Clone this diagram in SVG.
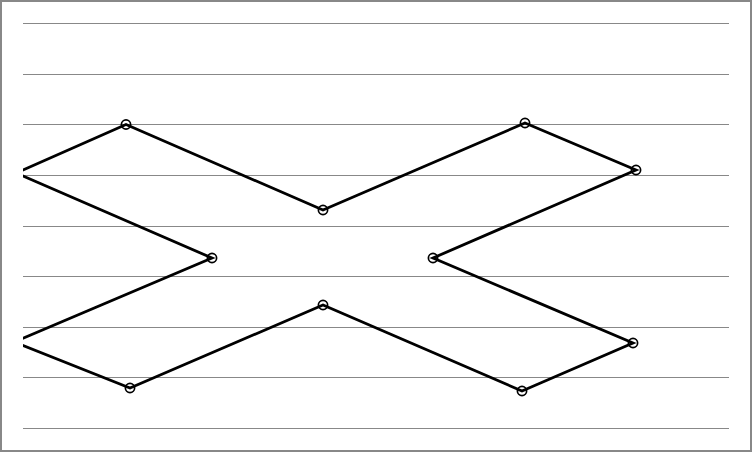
<svg xmlns="http://www.w3.org/2000/svg" width="752" height="452" viewBox="0 0 752 452">
  <style>
    .grid { stroke: #888888; stroke-width: 1; fill: none; }
    .edge { stroke: #000000; stroke-width: 2.8; fill: none; stroke-linejoin: miter; }
    .pt { stroke: #000000; stroke-width: 1.7; fill: none; }
  </style>
  <defs>
    <clipPath id="plot">
      <rect x="23" y="0" width="706" height="452"/>
    </clipPath>
  </defs>
  <rect x="1" y="1" width="750" height="450" fill="#ffffff" stroke="#888888" stroke-width="2"/>
  <g id="gridlines">
    <line class="grid" x1="23" y1="23.5" x2="729" y2="23.5"/>
    <line class="grid" x1="23" y1="74.5" x2="729" y2="74.5"/>
    <line class="grid" x1="23" y1="124.5" x2="729" y2="124.5"/>
    <line class="grid" x1="23" y1="175.5" x2="729" y2="175.5"/>
    <line class="grid" x1="23" y1="226.5" x2="729" y2="226.5"/>
    <line class="grid" x1="23" y1="276.5" x2="729" y2="276.5"/>
    <line class="grid" x1="23" y1="327.5" x2="729" y2="327.5"/>
    <line class="grid" x1="23" y1="377.5" x2="729" y2="377.5"/>
    <line class="grid" x1="23" y1="428.5" x2="729" y2="428.5"/>
  </g>
  <g id="connectors" clip-path="url(#plot)">
    <polygon class="edge" points="16,173 126,124.5 323,210 525,123 636,170 433,258 633,343 522,391 323,305 130,388 14,342 212,258"/>
  </g>
  <g id="nodes" clip-path="url(#plot)">
    <g id="n1"><circle class="pt" cx="126" cy="124.5" r="4.6"/></g>
    <g id="n2"><circle class="pt" cx="323" cy="210" r="4.6"/></g>
    <g id="n3"><circle class="pt" cx="525" cy="123" r="4.6"/></g>
    <g id="n4"><circle class="pt" cx="636" cy="170" r="4.6"/></g>
    <g id="n5"><circle class="pt" cx="433" cy="258" r="4.6"/></g>
    <g id="n6"><circle class="pt" cx="633" cy="343" r="4.6"/></g>
    <g id="n7"><circle class="pt" cx="522" cy="391" r="4.6"/></g>
    <g id="n8"><circle class="pt" cx="323" cy="305" r="4.6"/></g>
    <g id="n9"><circle class="pt" cx="130" cy="388" r="4.6"/></g>
    <g id="n10"><circle class="pt" cx="212" cy="258" r="4.6"/></g>
  </g>
</svg>
